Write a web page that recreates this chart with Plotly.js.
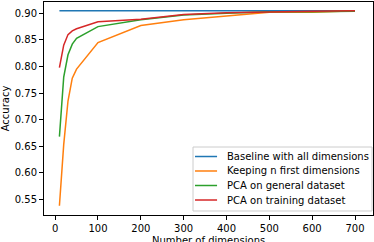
<!DOCTYPE html>
<html><head><meta charset="utf-8">
<script src="https://cdn.plot.ly/plotly-3.0.1.min.js"></script>
<style>body{margin:0;padding:0;background:#fff}#chart{width:374px;height:242px}</style>
</head><body><div id="chart"></div>
<script>
const dims = [10, 20, 30, 40, 50, 100, 200, 300, 400, 500, 600, 700];
const baseline = [0.905, 0.905, 0.905, 0.905, 0.905, 0.905, 0.905, 0.905, 0.905, 0.905, 0.905, 0.905];
const keepFirst = [0.538, 0.653, 0.735, 0.778, 0.795, 0.845, 0.877, 0.888, 0.895, 0.902, 0.902, 0.905];
const pcaGeneral = [0.668, 0.780, 0.822, 0.842, 0.853, 0.875, 0.888, 0.897, 0.900, 0.903, 0.903, 0.904];
const pcaTraining = [0.798, 0.840, 0.860, 0.867, 0.871, 0.884, 0.889, 0.898, 0.901, 0.903, 0.904, 0.905];
const names = ["Baseline with all dimensions", "Keeping n first dimensions", "PCA on general dataset", "PCA on training dataset"];
const colors = ["#1f77b4", "#ff7f0e", "#2ca02c", "#d62728"];
const series = [baseline, keepFirst, pcaGeneral, pcaTraining];
const xTicks = [0, 100, 200, 300, 400, 500, 600, 700];
const yTicks = [0.55, 0.60, 0.65, 0.70, 0.75, 0.80, 0.85, 0.90];
const xTitle = 'Number of dimensions';
const yTitle = 'Accuracy';

const traces = series.map((s, i) => ({
  x: dims, y: s, name: names[i], type: 'scatter', mode: 'lines',
  line: {color: colors[i], width: 1.5}
}));
const font = {family: 'DejaVu Sans', size: 10, color: '#000'};

// custom legend (matplotlib style) in paper coordinates
const legX0 = 0.4529, legX1 = 0.997, legY0 = 0.0188, legY1 = 0.3192;
const entryY = [0.2746, 0.2066, 0.1385, 0.0704];
const shapes = [{type: 'rect', xref: 'paper', yref: 'paper', x0: legX0, x1: legX1, y0: legY0, y1: legY1,
  line: {color: '#cccccc', width: 1}, fillcolor: 'rgba(255,255,255,0.8)', layer: 'above'}];
const annotations = [];
names.forEach((n, i) => {
  shapes.push({type: 'line', xref: 'paper', yref: 'paper', x0: 0.459, x1: 0.526, y0: entryY[i], y1: entryY[i],
    line: {color: colors[i], width: 1.5}, layer: 'above'});
  annotations.push({xref: 'paper', yref: 'paper', x: 0.552, y: entryY[i], xanchor: 'left', yanchor: 'middle',
    text: n, showarrow: false, font: font, borderpad: 0});
});
annotations.push({xref: 'paper', yref: 'paper', x: 0.5, y: 0, xanchor: 'center', yanchor: 'top', yshift: -19,
  text: xTitle, showarrow: false, font: font, borderpad: 0});

const layout = {
  width: 374, height: 242,
  margin: {l: 44, r: 1, t: 2, b: 27},
  paper_bgcolor: '#fff', plot_bgcolor: '#fff',
  font: font, showlegend: false,
  shapes: shapes, annotations: annotations,
  xaxis: {range: [-26, 742], tickvals: xTicks, ticktext: xTicks.map(String),
    showgrid: false, zeroline: false, showline: true, mirror: true, linecolor: '#000', linewidth: 1,
    ticks: 'outside', ticklen: 4, tickcolor: '#000', tickfont: font},
  yaxis: {range: [0.5205, 0.9213], tickvals: yTicks, ticktext: yTicks.map(v => v.toFixed(2)),
    showgrid: false, zeroline: false, showline: true, mirror: true, linecolor: '#000', linewidth: 1,
    ticks: 'outside', ticklen: 4, tickcolor: '#000', tickfont: font,
    title: {text: yTitle, font: font, standoff: 6}}
};
Plotly.newPlot('chart', traces, layout, {displayModeBar: false, staticPlot: true});
</script></body></html>
